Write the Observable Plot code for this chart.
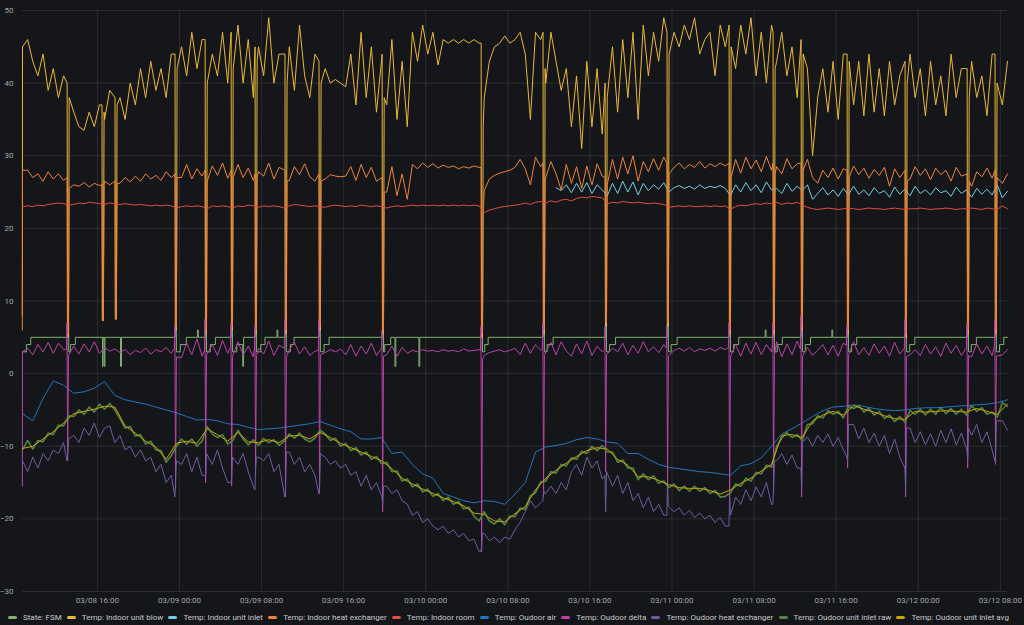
<!DOCTYPE html>
<html>
<head>
<meta charset="utf-8">
<script src="https://cdn.jsdelivr.net/npm/d3@7"></script>
<script src="https://cdn.jsdelivr.net/npm/@observablehq/plot@0.6"></script>
<style>
  html, body { margin: 0; padding: 0; background: #141619; }
  #wrap { position: relative; width: 1024px; height: 625px; overflow: hidden; background: #141619; font-family: Roboto, "Noto Sans", sans-serif; }
  #legend { position: absolute; left: 8px; width: 1001px; top: 610px; height: 14px; display: flex; justify-content: space-between; align-items: center; font-size: 8px; color: #c7c8cd; white-space: nowrap; }
  .item { display: flex; align-items: center; }
  .sw { width: 9px; height: 3px; border-radius: 1.5px; margin-right: 6px; }
</style>
</head>
<body>
<div id="wrap"><div id="chart"></div><div id="legend"></div></div>
<script>
// ---------- DATA ----------
const seriesNames = ["State: FSM", "Temp: Indoor unit blow", "Temp: Indoor unit inlet", "Temp: Indoor heat exchanger", "Temp: Indoor room", "Temp: Oudoor air", "Temp: Oudoor delta", "Temp: Oudoor heat exchanger", "Temp: Oudoor unit inlet raw", "Temp: Oudoor unit inlet avg"];
const seriesColors = ["#7EB26D", "#EAB839", "#6ED0E0", "#EF843C", "#E24D42", "#1F78C1", "#BA43A9", "#705DA0", "#508642", "#CCA300"];

const xTickLabels = ["03/08 16:00", "03/09 00:00", "03/09 08:00", "03/09 16:00", "03/10 00:00", "03/10 08:00", "03/10 16:00", "03/11 00:00", "03/11 08:00", "03/11 16:00", "03/12 00:00", "03/12 08:00"];
const yTicks = [-30, -20, -10, 0, 10, 20, 30, 40, 50];
const startTime = "03/08 08:42";
const endTime = "03/12 08:42";

// start-up transient (first minute of the record)
const startupTime = "03/08 08:41";
const startupBlow = 8;
const startupHex = 6;
const startupDelta = -15.5;

// 30-minute samples from startTime
const blowValues = [45, 46, 43, 41, 44, 39, 42, 38, 41, 39,
  36, 34, 33.5, 36, 34, 37, 35, 39, 36, 38,
  35, 40, 37, 42, 38, 43, 39, 42, 38, 44,
  40, 45, 41, 47, 42, 46, 38, 44, 41, 47,
  40, 44, 48, 40, 46, 38, 45, 41, 49, 40,
  44, 37, 45, 39, 48, 41, 38, 44, 36, 42,
  40, 40.5, 40, 39.5, 44, 37, 47, 38, 45, 36,
  44, 37, 46, 35, 43, 34, 47, 43, 48, 44,
  47, 42.5, 46, 45.5, 46, 45.5, 46, 45.5, 46, 45.5,
  38, 43, 45, 45.5, 46.5, 45.5, 46, 47, 44, 35,
  47, 46, 40, 47, 43, 39, 42, 34, 41, 31,
  43, 34, 42, 33, 40, 45, 36, 46, 38, 47,
  35, 48, 41, 47, 43, 49, 40, 47, 45, 48,
  46, 49, 44, 46, 47, 41, 48, 45, 49, 42,
  48, 44, 49, 41, 47, 40, 48, 43, 47, 41,
  45, 38, 47, 42, 30, 38, 42, 36, 43, 35,
  44, 46, 37, 43, 35.5, 44, 36, 42, 35.5, 43,
  37, 41, 34.5, 44, 38, 42, 35.5, 43, 37, 41,
  35.5, 44, 38, 42, 36, 43, 38, 41, 35.5, 44,
  47, 37, 43];

const inletStartIndex = 104;
const inletValues = [25.6, 25.2, 26, 24.9, 26.2, 25, 26.3, 24.8, 26, 25.3,
  24.5, 26.2, 24.8, 26.5, 25, 26.4, 24.6, 26.2, 25.2, 26, 25.4, 26.3,
  25, 25.6, 25.9, 25.5, 25.8, 25.4, 26, 25.5, 25.8, 25.6, 25.9, 25.5,
  24.5, 26, 25, 26.3, 25.2, 26, 24.9, 26.4, 25.3, 25.5, 24.8, 26.2, 25.1, 25.8, 25.2, 26,
  24, 24.8, 25.6, 24.6, 25.3, 24.4, 25.5, 24.6, 25.8, 24.7, 25.3, 24.5, 25.6, 24.8, 25.2, 24.3, 25.7, 24.7, 25.4, 24.5,
  25.8, 24.8, 25.3, 24.6, 25.6, 24.9, 25.2, 24.4, 25.7, 24.8, 25.3, 24.3, 25.5, 24.7, 25.4, 24.6, 26, 24.2, 25.1];

const hexValues = [28,
  28, 27, 27.5, 26.5, 27.8, 26.8, 27.5, 26.6,
  25.5, 26, 25.8, 26.3, 25.7, 26.2, 25.9, 26.5, 26, 26.8, 26.2, 27, 26.4, 27.2, 26.5, 27.5, 26.8, 27.3, 26.6, 27.8, 27,
  28.5, 27, 28.8, 26.8, 28.2, 27.2, 26.5, 28.6, 27.3, 29, 26.9, 27.5, 28.8, 27, 28.3, 26.6, 27.8, 27.2, 29, 26.8,
  28.4, 27, 26.6, 28.5, 27.4, 28.9, 27.1, 26.5, 28.1, 26.8, 27.4, 27.2, 27.1, 27.2, 28.5, 26.6, 28.8, 27, 28.4, 26.5, 27.8,
  25, 28.5, 24.5, 27.5, 24, 28.8, 28.2, 29, 28.4, 28.9, 28.3, 28.7, 28.4, 28.6, 28.2, 28.5, 28.3, 28.6, 28.4,
  25.2, 26.8, 27.3, 27.6, 27.8, 28, 28.4, 29.5, 28.2, 26, 29.8, 28.5,
  27, 29.2, 27.5, 25.3, 28.8, 26.2, 28.5, 25.5, 28.6, 26, 28.9, 27.2,
  26.5, 29.5, 26.8, 29.8, 27.5, 30, 26.5, 29.2, 27.8, 29.6, 28, 29.8,
  27.5, 28.4, 29, 28.2, 28.8, 28.4, 29.2, 28.3, 28.9, 28.5, 29, 28.6,
  27.2, 29.5, 27.6, 29.8, 28.2, 29.4, 27.8, 29.9, 28, 28.5, 27.5, 29.6, 28.2, 28.9, 28.3, 29.5,
  27, 26.2, 28, 27, 28.3, 26.8, 28.2, 27.2, 28.6, 27.4, 28.3, 26.9, 28.1, 27.3, 28.4, 25.8, 28.2, 27, 28, 26.8,
  28.5, 27.3, 28.2, 26.7, 28.3, 27.4, 28, 26.5, 28.4, 27.2, 28.1, 25.8, 27.8, 27.1, 28.3, 26.9, 28.8, 26.2, 27.5];

const roomValues = [23, 23.1, 23, 23.2, 23.1, 23.3, 23.4, 23.5, 23.4, 23.2,
  23.3, 23.5, 23.4, 23.6, 23.5, 23.4, 23.3, 23.5, 23.4, 23.3, 23.4, 23.3, 23.2, 23.3, 23.2, 23.1, 23.2, 23.1, 23.2, 23.1,
  22.8, 23, 23.1, 23, 23.1, 23, 22.7, 23.1, 23, 23.1, 23, 22.8, 23.1, 23, 23.2, 23.1, 22.9, 23.1, 23, 23.1,
  23, 22.8, 23.1, 23.3, 23.2, 23.1, 23, 23.1, 23, 22.9, 23.1, 23.2, 23.1, 23, 23.1, 23, 23.2, 23.1, 23, 23.1, 23,
  22.8, 23, 23.1, 23, 23.1, 23.2, 23.1, 23.2, 23.1, 23.2, 23.1, 23.2, 23.1, 23.2, 23.1, 23.2, 23.1, 23.2, 23.1,
  22.2, 22.5, 22.7, 22.9, 23, 23.1, 23.2, 23.3, 23.5, 23.3, 23.6, 23.7,
  23.5, 23.8, 23.6, 23.9, 24, 23.8, 24.1, 24.3, 24.2, 24.4, 24.3, 24.2,
  23.4, 23.6, 23.5, 23.7, 23.6, 23.5, 23.6, 23.5, 23.4, 23.5, 23.4, 23.3,
  22.9, 23, 23.1, 23, 23.1, 23, 23, 23.1, 23, 23.1, 23, 23.1,
  22.6, 23, 23.2, 23.1, 23.3, 23.4, 23.3, 23.5, 23.4, 23.6, 23.3, 23.5, 23.4, 23.6, 23.2, 22.9,
  22.7, 22.6, 22.7, 22.8, 22.7, 22.6, 22.7, 22.8, 22.7, 22.6, 22.7, 22.8, 22.7, 22.7, 22.6, 22.7, 22.8, 22.7, 22.6, 22.7,
  22.7, 22.8, 22.7, 22.6, 22.7, 22.7, 22.8, 22.7, 22.6, 22.7, 22.7, 22.8, 22.7, 22.6, 22.8, 22.7, 22.6, 23.1, 22.7];

const deltaValues = [3,
  3.5, 2.6, 4, 3, 4.3, 2.8, 4.2, 3.3,
  2.5, 3.8, 2.7, 4.1, 3, 4.4, 2.8, 3.6, 3.1, 3.4, 2.9, 3.3, 2.6, 3.2, 2.9, 3.5, 2.7, 3.3, 3, 3.6, 2.8,
  3.5, 2.2, 4.2, 2.6, 4.8, 2.4, 3, 4, 2.5, 4.6, 2.8, 3.2, 4.4, 2.6, 3.8, 2.3, 3.5, 2.7, 4.5, 2.5,
  3.9, 2.9, 3.3, 4.3, 2.7, 3.7, 2.5, 3.1, 3.2, 2.9, 3.3, 3, 3.4, 2.6, 4, 2.4, 3.8, 2.7, 4.2, 2.5, 3.6,
  2.6, 3.8, 2.4, 3.6, 2.8, 3.2, 3, 3.3, 3.1, 3.2, 3, 3.3, 3.1, 3.2, 3, 3.4, 3.1, 3.2, 3.3,
  2.5, 2.9, 3.1, 3.3, 3, 3.2, 3.5, 2.6, 4.2, 2.8, 4, 3.2,
  3, 4.3, 2.6, 4.4, 3.1, 2.4, 4.1, 2.7, 4.5, 2.5, 3.8, 3,
  2.7, 3.5, 3, 4.2, 2.6, 3.9, 2.8, 4.4, 3, 3.7, 2.9, 4,
  2.8, 3.2, 3.5, 3.1, 3.6, 3, 3.4, 3.2, 3.5, 3.1, 3.6, 3.3,
  2.8, 4, 2.4, 4.2, 2.7, 4.3, 2.6, 4, 3, 4.4, 2.3, 4.1, 2.6, 4.5, 3, 3.6,
  2.5, 3.2, 4, 2.6, 3.9, 2.4, 4.2, 2.7, 4.4, 2.6, 3.6, 2.5, 4.1, 2.8, 3.8, 2.4, 4.3, 2.7, 3.5, 2.6,
  3.3, 2.5, 4, 2.7, 3.7, 2.4, 4.2, 2.8, 3.9, 2.5, 3.6, 2.3, 4.1, 2.7, 3.8, 2.5, 4.4, 2.6, 3.3];

const odHexValues = [-12, -13.5, -11.5, -13, -11, -12, -10.5, -11, -9.5, -10,
  -8.5, -9.5, -7.5, -8.5, -6.8, -8.8, -7.5, -7.2, -9.5, -8.5,
  -10.5, -10, -11.5, -10.5, -12, -11.5, -13.5, -12.5, -15, -14,
  -12, -12.5, -11, -13.5, -11.5, -14, -11, -12.5, -10.5, -13,
  -15, -11.5, -12.5, -11, -13.5, -15.5, -11.5, -12, -11, -13.5,
  -12.5, -16, -10.8, -12.5, -11.5, -13.5, -12.5, -14, -11, -11.5,
  -12.5, -12, -13, -12.5, -14, -13.5, -15.5, -14, -16, -15,
  -17, -15.5, -16.5, -16, -17.5, -18, -19.5, -19, -20.5, -20,
  -21, -21.5, -21, -22, -21.5, -22.5, -22, -23, -22.8, -24.5,
  -22, -23, -22.5, -23.3, -22.5, -22.8, -21.5, -20.5, -19, -17.5,
  -18.5, -17.8, -16.5, -15.5, -16.5, -15, -16, -13.5, -12.5, -14,
  -11.5, -13, -12, -14.5, -13.5, -15.5, -14, -16.5, -15, -17.5,
  -16.5, -18.5, -17, -19, -18, -19.5, -18.3, -19, -18.5, -19.5,
  -18.8, -19.8, -19.2, -20, -19.5, -20.5, -19.8, -21, -19.5, -17,
  -18, -16, -17.5, -15.6, -17, -15, -18, -12, -11, -12.5,
  -11.2, -13, -9.5, -8.7, -10, -8.5, -9.5, -8.3, -10, -8.8,
  -10.5, -8, -7, -9, -7.5, -9.5, -8.2, -10, -8.5, -11,
  -9, -11.5, -13, -7.5, -9.5, -8, -9.8, -8.3, -10, -7.8,
  -9.5, -7.6, -9.8, -8.2, -10.5, -8.5, -7, -9.5, -8, -10.5,
  -12, -6.5, -7.8];

const rawValues = [-10.5, -9.2, -10.4, -9.2, -9.4, -8.2, -8.4, -7.1, -7.2, -5.8,
  -5.9, -5, -5.6, -4.6, -5.3, -4.2, -4.9, -4.1, -5, -6.2,
  -7.5, -7.3, -8.6, -8.4, -9.7, -9.3, -10.5, -10.6, -12.2, -11.3,
  -10, -9, -9.7, -9, -10, -9.3, -7.3, -8.3, -8.8, -8.4,
  -9.7, -9.2, -7.8, -9, -9.8, -9.1, -9.9, -8.9, -9.5, -9.1,
  -9.9, -9.3, -8.3, -8.9, -8.2, -9, -9.4, -8.9, -7.8, -8.3,
  -9.2, -8.9, -10, -9.6, -10.6, -10.2, -11.2, -10.8, -11.8, -11.4,
  -12.4, -12.2, -13.5, -13.4, -14.8, -14.5, -15.6, -15.2, -16.3, -15.9,
  -16.9, -16.5, -17.5, -17, -18, -17.6, -18.6, -18.4, -19.6, -20.3,
  -19, -20.3, -20.7, -20, -20.8, -19.6, -19.7, -18.5, -18.7, -16.8,
  -16.4, -14.9, -14.8, -13.5, -13.7, -12.5, -12.7, -11.6, -11.8, -10.7,
  -11, -10, -10.6, -9.9, -10.8, -10.8, -12.2, -11.9, -13, -13,
  -14.6, -13.8, -14.6, -14.1, -15.1, -14.8, -15.7, -15.2, -16.1, -15.5,
  -16.2, -15.5, -16.2, -15.7, -16.5, -16.1, -17, -16.9, -16.4, -15.2,
  -15.5, -14.4, -14.8, -13.6, -13.8, -12.6, -12.9, -10, -8.9, -8.1,
  -8.8, -8.4, -9.2, -7, -6.9, -5.8, -6.1, -5.1, -5.6, -5.2,
  -6.1, -4.5, -4.8, -4.4, -5.3, -4.8, -5.7, -5.2, -6.2, -5.7,
  -6.6, -5.9, -6.7, -5.1, -5.6, -4.9, -5.7, -4.9, -5.6, -4.7,
  -5.5, -4.8, -5.6, -4.9, -5.7, -4.4, -5.2, -4.7, -5.6, -5.3,
  -6, -4, -4.5];

// hourly samples from startTime
const airValues = [-5.5, -6.5, -3.4, -1, -1.6, -2.7, -2.5, -2, -1.1, -3,
  -3.6, -3.9, -4.2, -4.6, -5, -5.4, -5.9, -6.4, -6.3, -6.5,
  -6.9, -7, -7.4, -7.7, -7.6, -7.5, -7.3, -7.1, -6.9, -6.6,
  -7.1, -7.6, -8, -9, -9, -8.8, -11, -10.8, -12.5, -13.8,
  -14.4, -16.5, -17, -17.5, -17.8, -17.5, -17.6, -18, -16.6, -15,
  -10.8, -10.1, -9.9, -9.6, -9.1, -8.8, -9, -9.4, -9.6, -11,
  -11, -11.8, -12.5, -12.9, -13.1, -13.3, -13.5, -13.6, -13.8, -14,
  -12.7, -12.4, -11.6, -10, -8.3, -7.6, -6.8, -5.9, -5.1, -4.6,
  -4.5, -4.3, -4.5, -4.8, -5, -5.1, -5, -4.8, -4.7, -4.7,
  -4.6, -4.5, -4.4, -4.3, -4.2, -4, -3.6];

const avgValues = [-10.3, -10, -9, -8, -6.8, -5.5, -5.2, -4.9, -4.5, -4.6,
  -7.2, -8.2, -9.3, -10.1, -11.8, -9.6, -9.3, -9.6, -7.6, -8.4,
  -9.3, -8.1, -9.4, -9.5, -9.1, -9.5, -8.6, -8.5, -9, -8.1,
  -8.8, -9.6, -10.2, -10.8, -11.4, -12, -13.1, -14.4, -15.2, -15.9,
  -16.5, -17.1, -17.6, -18.2, -19.2, -19.4, -20.3, -20.4, -19.3, -18.3,
  -16, -14.4, -13.3, -12.3, -11.4, -10.6, -10.2, -10.4, -11.8, -12.6,
  -14.2, -14.2, -14.7, -15.3, -15.7, -15.8, -15.8, -16.1, -16.6, -16,
  -15.1, -14.4, -13.4, -12.5, -8.5, -8.4, -8.8, -6.5, -5.7, -5.2,
  -5.7, -4.4, -4.9, -5.3, -5.8, -6.2, -6.3, -5.2, -5.3, -5.2,
  -5.1, -5.2, -5.3, -4.8, -5.2, -5.6, -4.2];

// defrost cycles (read from the vertical spikes): level just before, bottom, level just after
const defrostTimes = ["03/08 13:05", "03/08 23:36", "03/09 02:32", "03/09 05:04", "03/09 07:24", "03/09 10:19", "03/09 13:38", "03/09 19:47", "03/10 05:26", "03/10 11:28", "03/10 17:31", "03/10 23:33", "03/11 05:36", "03/11 09:53", "03/11 12:37", "03/11 17:06", "03/11 22:45", "03/12 04:48", "03/12 07:31"];
const defrostBlowPre = [40, 44, 46, 47, 45, 44, 43, 44, 45.5, 47, 40, 47, 48, 47, 46, 44, 43, 42, 44];
const defrostBlowMin = [5, 6, 5.5, 6, 5.5, 5.5, 6, 5.5, 5, 5.5, 6.5, 6.5, 5.5, 5.5, 6, 5.5, 5, 5.5, 5.5];
const defrostBlowPost = [38, 42, 40, 42, 43, 40, 40, 38, 34, 42, 38, 44, 45, 42, 44, 43, 40, 38, 40];
const defrostHexPre = [27, 27.5, 28, 28, 27.5, 28, 27.5, 27, 28.4, 29, 27, 29, 29, 29, 29, 28, 28, 27.5, 28];
const defrostHexMin = [5.5, 6.5, 6, 6.5, 6, 6, 6.5, 6, 5.5, 6, 7, 7, 6, 6, 6.5, 6, 5.5, 6, 6];
const defrostHexPost = [25.5, 27, 26.5, 27, 27, 26.5, 26.5, 25, 22, 26.5, 26, 27.5, 27, 27.5, 28, 27, 26.5, 26.5, 27];
const defrostDeltaPre = [3.3, 3.5, 3.2, 3.6, 3.4, 3.5, 3.2, 3.5, 3.2, 3.4, 3.3, 3.5, 3.6, 3.8, 3.4, 3.9, 3.5, 3.6, 3.7];
const defrostDeltaMax = [7, 6.5, 7.5, 7, 6.5, 7.5, 7.5, 6, 6.5, 7, 6.5, 6.5, 7, 7, 8, 6.5, 7.5, 7, 7.5];
const defrostDeltaMin = [-12, -16, -15, -15.5, -14, -17, -16.5, -19, -24.5, -17, -13.5, -16, -18, -16.5, -17, -13, -17, -13, -12.5];
const defrostDeltaPost = [2.5, 2.3, 2.6, 2.4, 2.5, 2.3, 2.6, 2.4, 2, 2.5, 2.6, 2.4, 2.3, 2.5, 2.4, 2.6, 2.3, 2.5, 2.4];
const defrostOdHexPre = [-12, -17, -14, -15, -16, -17, -16.5, -17, -24.5, -17.5, -14, -19.5, -21, -18, -13, -11.5, -13, -10.5, -12];
const defrostOdHexMin = [-11, -15, -14, -14.5, -13, -16, -15.5, -18, -23.5, -16, -19, -15, -17, -15.5, -16, -12, -16, -12, -11.5];
const defrostOdHexPost = [-9, -12, -11, -11.5, -11.5, -10.8, -11, -15.5, -22, -16.5, -13.5, -18.3, -19.5, -12, -9.5, -7, -7.5, -7.5, -6.5];
// short indoor-coil dips
const shortTimes = ["03/08 16:29", "03/08 17:45"];
const shortBlowPre = [37, 38];
const shortHexPre = [26, 26.5];
const shortMin = [7.3, 7.5];
const shortBlowPost = [36, 37];
const shortHexPost = [25.9, 26.2];

// State FSM transitions
const fsmTimes = ["03/08 08:42", "03/08 09:05", "03/08 09:30",
  "03/08 13:05", "03/08 13:12", "03/08 13:22", "03/08 13:51",
  "03/08 16:30", "03/08 16:33", "03/08 16:40", "03/08 16:44", "03/08 18:15", "03/08 18:21",
  "03/08 23:36", "03/08 23:42", "03/09 00:05", "03/09 00:40", "03/09 01:45", "03/09 01:50",
  "03/09 02:32", "03/09 02:38", "03/09 03:00", "03/09 03:30",
  "03/09 05:04", "03/09 05:10", "03/09 05:35", "03/09 06:10", "03/09 06:15",
  "03/09 07:24", "03/09 07:30", "03/09 07:55", "03/09 08:20", "03/09 09:30", "03/09 09:35",
  "03/09 10:19", "03/09 10:25", "03/09 10:48", "03/09 11:10",
  "03/09 13:38", "03/09 13:44", "03/09 14:05", "03/09 14:35",
  "03/09 19:47", "03/09 19:53", "03/09 20:00", "03/09 20:35", "03/09 21:00", "03/09 21:05", "03/09 23:20", "03/09 23:25",
  "03/10 05:26", "03/10 05:32", "03/10 05:45", "03/10 06:05",
  "03/10 11:28", "03/10 11:34", "03/10 11:50", "03/10 12:25",
  "03/10 17:31", "03/10 17:37", "03/10 17:55", "03/10 18:30",
  "03/10 23:33", "03/10 23:39", "03/10 23:55", "03/11 00:30",
  "03/11 05:36", "03/11 05:42", "03/11 06:00", "03/11 06:30", "03/11 09:05", "03/11 09:10",
  "03/11 09:53", "03/11 09:59", "03/11 10:15", "03/11 10:45",
  "03/11 12:37", "03/11 12:43", "03/11 13:00", "03/11 13:30", "03/11 15:35", "03/11 15:40",
  "03/11 17:06", "03/11 17:12", "03/11 17:30", "03/11 18:00",
  "03/11 22:45", "03/11 22:51", "03/11 23:10", "03/11 23:40",
  "03/12 04:48", "03/12 04:54", "03/12 05:10", "03/12 05:40",
  "03/12 07:31", "03/12 07:37", "03/12 07:55", "03/12 08:20", "03/12 08:42"];
const fsmStates = [3, 4, 5,
  7, 3, 4, 5,
  1, 5, 1, 5, 1, 5,
  7, 3, 4, 5, 6, 5,
  7, 3, 4, 5,
  7, 3, 4, 1, 5,
  7, 3, 4, 5, 6, 5,
  7, 3, 4, 5,
  7, 3, 4, 5,
  7, 3, 4, 5, 1, 5, 1, 5,
  7, 3, 4, 5,
  7, 3, 4, 5,
  7, 3, 4, 5,
  7, 3, 4, 5,
  7, 3, 4, 5, 6, 5,
  7, 3, 4, 5,
  7, 3, 4, 5, 6, 5,
  7, 3, 4, 5,
  7, 3, 4, 5,
  7, 3, 4, 5,
  7, 3, 4, 5, 5];

// ---------- BUILD ----------
const YEAR = 2023;
function parseT(s) {
  const [md, hm] = s.split(" ");
  const [mo, da] = md.split("/").map(Number);
  const [h, m] = hm.split(":").map(Number);
  return new Date(Date.UTC(YEAR, mo - 1, da, h, m));
}
const MIN = 60000;
const t0 = parseT(startTime);
const at = (T, dm) => new Date(+T + dm * MIN);
function grid(values, startIndex, stepMin) {
  return values.map((v, k) => ({t: at(t0, (startIndex + k) * stepMin), v}));
}
const dT = defrostTimes.map(parseT);
const sT = shortTimes.map(parseT);
// drop regular samples that fall inside an event window, then merge the event points
function withEvents(base, times, events) {
  const kept = base.filter(p => !times.some(T => p.t >= at(T, -8) && p.t <= at(T, 12)));
  return kept.concat(events).sort((a, b) => a.t - b.t);
}
const dip = (times, pre, min, post) => times.flatMap((T, k) => [
  {t: at(T, -2), v: pre[k]}, {t: T, v: min[k]}, {t: at(T, 6), v: min[k]}, {t: at(T, 10), v: post[k]}
]);
const allEv = dT.concat(sT);
const su = parseT(startupTime);

const blow = withEvents(grid(blowValues, 0, 30), allEv,
  dip(dT, defrostBlowPre, defrostBlowMin, defrostBlowPost).concat(dip(sT, shortBlowPre, shortMin, shortBlowPost), [{t: su, v: startupBlow}]));
const hex = withEvents(grid(hexValues, 0, 30), allEv,
  dip(dT, defrostHexPre, defrostHexMin, defrostHexPost).concat(dip(sT, shortHexPre, shortMin, shortHexPost), [{t: su, v: startupHex}]));
const inlet = grid(inletValues, inletStartIndex, 30);
const room = grid(roomValues, 0, 30);
const delta = withEvents(grid(deltaValues, 0, 30), dT, dT.flatMap((T, k) => [
  {t: at(T, -6), v: defrostDeltaPre[k]},
  {t: at(T, -3), v: defrostDeltaMax[k]},
  {t: at(T, 1), v: defrostDeltaMin[k]},
  {t: at(T, 6), v: defrostDeltaPost[k]}
]).concat([{t: su, v: startupDelta}]));
const odHex = withEvents(grid(odHexValues, 0, 30), dT, dT.flatMap((T, k) => [
  {t: at(T, -3), v: defrostOdHexPre[k]},
  {t: at(T, 1), v: defrostOdHexMin[k]},
  {t: at(T, 6), v: defrostOdHexPost[k]}
]));
const raw = grid(rawValues, 0, 30);
const air = grid(airValues, 0, 60);
const avg = grid(avgValues, 0, 60);
const fsm = fsmTimes.map((s, k) => ({t: parseT(s), v: fsmStates[k]}));

const xTicks = xTickLabels.map(parseT);
const lineOpts = (i, w = 1) => ({x: "t", y: "v", stroke: seriesColors[i], strokeWidth: w});

const chart = Plot.plot({
  width: 1024,
  height: 609,
  marginLeft: 22,
  marginRight: 17,
  marginTop: 10,
  marginBottom: 18,
  style: {background: "transparent", fontFamily: "Roboto, 'Noto Sans', sans-serif", fontSize: "8px", color: "#a4a6ab", overflow: "visible"},
  x: {type: "utc", domain: [parseT(startTime), parseT(endTime)]},
  y: {domain: [-30, 50]},
  marks: [
    Plot.gridX(xTicks, {stroke: "#ccccdc", strokeOpacity: 0.12}),
    Plot.gridY(yTicks, {stroke: "#ccccdc", strokeOpacity: 0.12}),
    Plot.line(fsm, {...lineOpts(0), curve: "step-after"}),
    Plot.line(blow, lineOpts(1)),
    Plot.line(inlet, lineOpts(2)),
    Plot.line(hex, lineOpts(3)),
    Plot.line(room, lineOpts(4)),
    Plot.line(air, lineOpts(5)),
    Plot.line(delta, lineOpts(6)),
    Plot.line(odHex, lineOpts(7)),
    Plot.line(raw, lineOpts(8, 1.6)),
    Plot.line(avg, lineOpts(9)),
    Plot.axisX({ticks: xTicks, tickFormat: d3.utcFormat("%m/%d %H:%M"), tickSize: 0, tickPadding: 6, label: null, fill: "#a4a6ab"}),
    Plot.axisY({ticks: yTicks, tickSize: 0, tickPadding: 9, label: null, fill: "#a4a6ab"})
  ]
});
document.getElementById("chart").appendChild(chart);

const legend = document.getElementById("legend");
seriesNames.forEach((name, i) => {
  const item = document.createElement("div");
  item.className = "item";
  const sw = document.createElement("span");
  sw.className = "sw";
  sw.style.background = seriesColors[i];
  const label = document.createElement("span");
  label.textContent = name;
  item.appendChild(sw);
  item.appendChild(label);
  legend.appendChild(item);
});
</script>
</body>
</html>
